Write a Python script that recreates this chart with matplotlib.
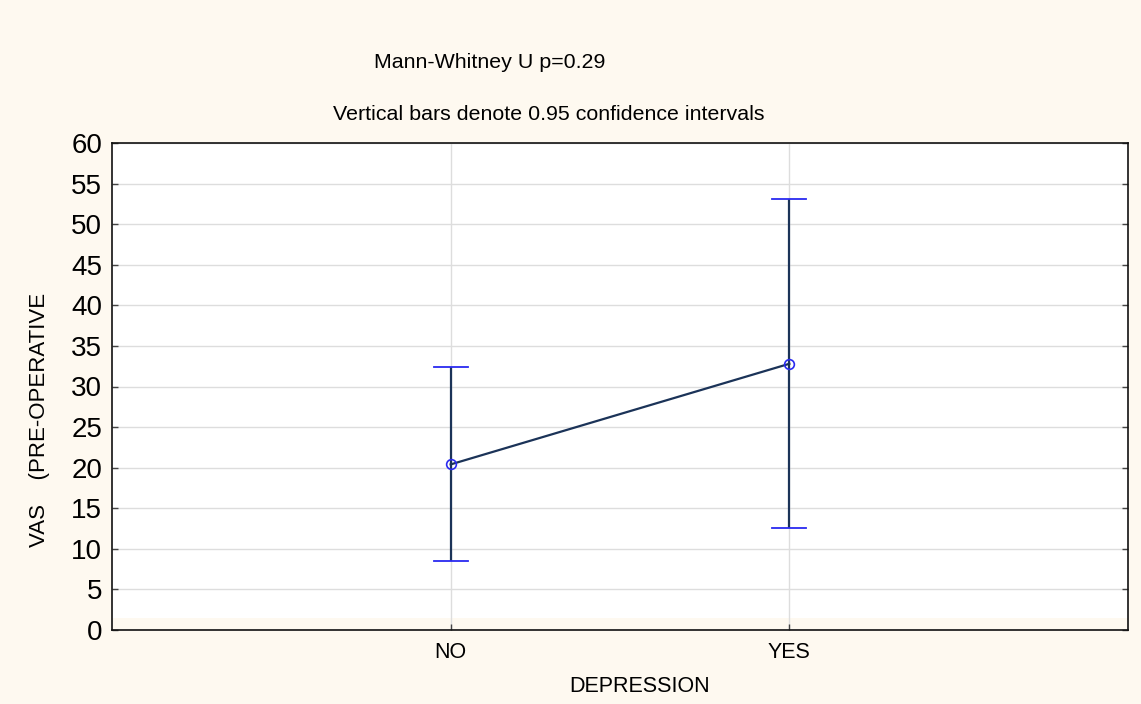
import matplotlib
matplotlib.use("Agg")
import matplotlib.pyplot as plt
from matplotlib.patches import Rectangle

plt.rcParams['font.family'] = ['Liberation Sans', 'DejaVu Sans']

categories = ["NO", "YES"]
means = [20.4, 32.8]
ci_low = [8.5, 12.6]
ci_high = [32.4, 53.1]
y_ticks = list(range(0, 65, 5))
title1 = "Mann-Whitney U p=0.29"
title2 = "Vertical bars denote 0.95 confidence intervals"
xlabel = "DEPRESSION"
ylabel = "VAS    (PRE-OPERATIVE"

bg = "#FEF9F0"
fig = plt.figure(figsize=(11.41, 7.04), dpi=100, facecolor=bg)
ax = fig.add_axes([112/1141, 1 - 630/704, (1128-112)/1141, (630-143)/704])
ax.set_facecolor(bg)
ax.add_patch(Rectangle((0, 12/487), 1, 1 - 12/487, transform=ax.transAxes,
                       facecolor="white", edgecolor="none", zorder=0))

x = [1, 2]
yerr = [[m - l for m, l in zip(means, ci_low)], [h - m for m, h in zip(means, ci_high)]]
ax.plot(x, means, color="#1B3358", lw=1.6, zorder=3)
ax.errorbar(x, means, yerr=yerr, fmt="none", ecolor="#1B3358", elinewidth=1.6,
            capsize=0, zorder=3)
for xi, lo, hi in zip(x, ci_low, ci_high):
    for v in (lo, hi):
        ax.plot([xi - 0.05, xi + 0.05], [v, v], color="#2A2AF0", lw=1.3, zorder=4)
ax.plot(x, means, linestyle="none", marker="o", ms=7, mfc="none", mec="#2A2AF0",
        mew=1.2, zorder=5)

ax.set_xlim(0, 3)
ax.set_ylim(0, 60)
ax.set_xticks(x)
ax.set_xticklabels(categories, fontsize=15.5)
ax.set_yticks(y_ticks)
ax.set_yticklabels([str(t) for t in y_ticks], fontsize=20)
ax.grid(True, color="#DDDDDD", lw=1.0, zorder=1)
ax.set_axisbelow(True)
ax.tick_params(axis="both", direction="in", length=4, width=1, color="#444444",
               right=True, top=False, pad=9)
ax.tick_params(axis="y", pad=7)
for s in ax.spines.values():
    s.set_color("#111111")
    s.set_linewidth(1.2)

fig.text(490/1141, 1 - 62/704, title1, ha="center", va="center", fontsize=15.4)
fig.text(549/1141, 1 - 115/704, title2, ha="center", va="center", fontsize=15.4)
fig.text(640/1141, 1 - 686/704, xlabel, ha="center", va="center", fontsize=15.5)
fig.text(40/1141, 1 - 420/704, ylabel, ha="center", va="center", fontsize=16,
         rotation=90)

fig.savefig("out.png", dpi=100, facecolor=bg)
